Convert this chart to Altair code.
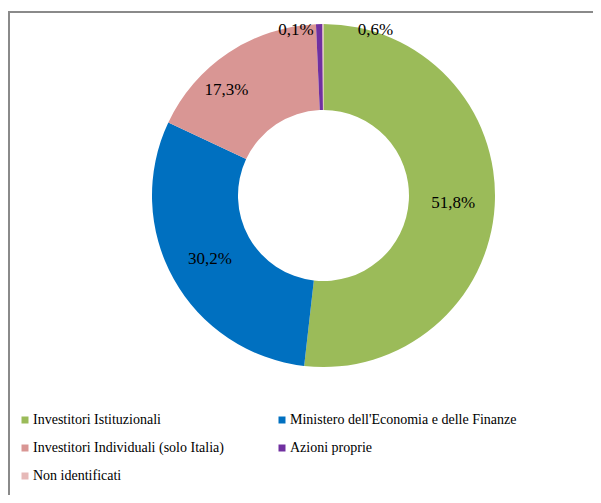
import altair as alt
import pandas as pd

names = [
    "Investitori Istituzionali",
    "Ministero dell'Economia e delle Finanze",
    "Investitori Individuali (solo Italia)",
    "Azioni proprie",
    "Non identificati",
]
values = [51.8, 30.2, 17.3, 0.6, 0.1]
labels = ["51,8%", "30,2%", "17,3%", "0,6%", "0,1%"]
colors = ["#9BBB59", "#0070C0", "#D99694", "#7030A0", "#E6B9B8"]

df = pd.DataFrame({"name": names, "value": values, "label": labels, "idx": list(range(len(names)))})
total = round(sum(values), 6)

W, H = 585, 487
CX, CY = 315.5, 187.5
FONT = "Liberation Serif"

theta_scale = alt.Scale(domain=[0, total])

base = alt.Chart(df).transform_window(
    cum="sum(value)", sort=[alt.SortField("idx")]
).transform_calculate(mid="datum.cum - datum.value / 2")

arcs = alt.Chart(df).mark_arc(
    innerRadius=85.5, outerRadius=171.5, x=CX, y=CY
).encode(
    theta=alt.Theta("value:Q", stack=True, scale=theta_scale),
    order=alt.Order("idx:Q"),
    color=alt.Color(
        "name:N",
        scale=alt.Scale(domain=names, range=colors),
        sort=names,
        legend=alt.Legend(
            title=None,
            orient="none",
            direction="horizontal",
            legendX=10,
            legendY=405,
            columns=2,
            columnPadding=51,
            rowPadding=14,
            symbolType="square",
            symbolSize=49,
            symbolStrokeWidth=0,
            labelFont=FONT,
            labelFontSize=14,
            labelColor="black",
            labelOffset=1,
            padding=0,
            labelLimit=400,
        ),
    ),
)


def lbl(sel, radius, dx=0, dy=0):
    return base.transform_filter(sel).mark_text(
        radius=radius, x=CX, y=CY, dx=dx, dy=dy,
        font=FONT, fontSize=17, color="black",
    ).encode(
        theta=alt.Theta("mid:Q", stack=False, scale=theta_scale),
        text="label:N",
    )


t_main = lbl("datum.idx <= 1", 130)
t_pink = lbl("datum.idx == 2", 130, dx=-25, dy=3)
t_az = lbl("datum.idx == 3", 166, dx=56)
t_ni = lbl("datum.idx == 4", 166, dx=-27)

one = alt.Data(values=[{}])
frame_left = alt.Chart(one).mark_rule(color="#8a8a8a", strokeWidth=2).encode(
    x=alt.value(1), y=alt.value(3), y2=alt.value(H)
)
frame_top = alt.Chart(one).mark_rule(color="#8a8a8a", strokeWidth=2).encode(
    x=alt.value(0), x2=alt.value(W), y=alt.value(4)
)

chart = alt.layer(arcs, t_main, t_pink, t_az, t_ni, frame_left, frame_top).properties(
    width=W, height=H, padding=0, autosize=alt.AutoSizeParams(type="none")
).configure_view(stroke=None)

chart.save("out.html", embed_options={"renderer": "svg", "actions": False})
